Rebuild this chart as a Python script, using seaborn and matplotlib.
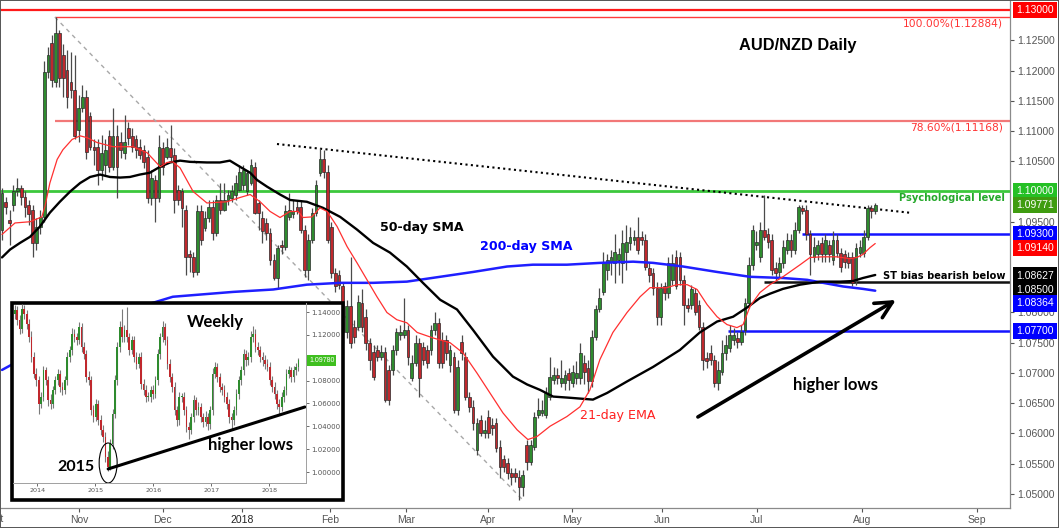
import numpy as np
import pandas as pd
import matplotlib
matplotlib.use("Agg")
import matplotlib.pyplot as plt
from matplotlib.patches import Rectangle, Ellipse
import seaborn as sns

# ---------------- main daily candles (AUD/NZD, Oct 2017 - Aug 2018) ----------------
opens = [1.0937, 1.0983, 1.0953, 1.0978, 1.1000, 1.1006, 1.0991, 1.0978, 1.0970, 1.0915,
         1.0942, 1.0958, 1.1198, 1.1246, 1.1181, 1.1262, 1.1226, 1.1201, 1.1181, 1.1168,
         1.1102, 1.1138, 1.1157, 1.1124, 1.1074, 1.1074, 1.1036, 1.1044, 1.1091, 1.1041,
         1.1091, 1.1082, 1.1064, 1.1105, 1.1091, 1.1086, 1.1074, 1.1069, 1.1057, 1.0990,
         1.1019, 1.0990, 1.1072, 1.1057, 1.1072, 1.1061, 1.1003, 1.1000, 1.0970, 1.0896,
         1.0891, 1.0867, 1.0967, 1.0940, 1.0957, 1.0975, 1.0932, 1.0986, 1.0970, 1.0986,
         1.0990, 1.0995, 1.1003, 1.1011, 1.1000, 1.1014, 1.1041, 1.0981, 1.0957, 1.0948,
         1.0932, 1.0887, 1.0857, 1.0912, 1.0909, 1.0958, 1.0962, 1.0975, 1.0975, 1.0937,
         1.0871, 1.0920, 1.0965, 1.1031, 1.1053, 1.1033, 1.0942, 1.0866, 1.0862, 1.0843,
         1.0767, 1.0810, 1.0776, 1.0776, 1.0816, 1.0793, 1.0750, 1.0735, 1.0738, 1.0727,
         1.0735, 1.0705, 1.0705, 1.0738, 1.0763, 1.0763, 1.0771, 1.0692, 1.0717, 1.0750,
         1.0743, 1.0738, 1.0738, 1.0771, 1.0783, 1.0755, 1.0755, 1.0714, 1.0727, 1.0639,
         1.0752, 1.0727, 1.0661, 1.0644, 1.0573, 1.0623, 1.0601, 1.0628, 1.0614, 1.0618,
         1.0578, 1.0557, 1.0552, 1.0535, 1.0535, 1.0528, 1.0512, 1.0581, 1.0553, 1.0578,
         1.0631, 1.0634, 1.0631, 1.0661, 1.0689, 1.0697, 1.0684, 1.0684, 1.0700, 1.0684,
         1.0692, 1.0692, 1.0717, 1.0709, 1.0686, 1.0760, 1.0805, 1.0834, 1.0871, 1.0884,
         1.0882, 1.0887, 1.0882, 1.0900, 1.0915, 1.0920, 1.0924, 1.0925, 1.0920, 1.0874,
         1.0866, 1.0841, 1.0793, 1.0843, 1.0833, 1.0854, 1.0892, 1.0891, 1.0854, 1.0813,
         1.0813, 1.0833, 1.0813, 1.0776, 1.0725, 1.0733, 1.0722, 1.0684, 1.0702, 1.0733,
         1.0742, 1.0755, 1.0758, 1.0752, 1.0771, 1.0816, 1.0879, 1.0912, 1.0892, 1.0937,
         1.0929, 1.0920, 1.0874, 1.0867, 1.0882, 1.0904, 1.0920, 1.0904, 1.0937, 1.0973,
         1.0970, 1.0929, 1.0892, 1.0896, 1.0915, 1.0896, 1.0912, 1.0887, 1.0920, 1.0899,
         1.0896, 1.0892, 1.0892, 1.0854, 1.0899, 1.0899, 1.0925, 1.0973, 1.0967]
highs = [1.1006, 1.0991, 1.0970, 1.1011, 1.1023, 1.1011, 1.1000, 1.0986, 1.0978, 1.0957,
         1.0970, 1.1215, 1.1239, 1.1259, 1.1289, 1.1267, 1.1243, 1.1234, 1.1231, 1.1226,
         1.1160, 1.1176, 1.1168, 1.1132, 1.1086, 1.1086, 1.1094, 1.1086, 1.1102, 1.1138,
         1.1110, 1.1099, 1.1127, 1.1115, 1.1105, 1.1094, 1.1086, 1.1077, 1.1069, 1.1036,
         1.1028, 1.1094, 1.1082, 1.1089, 1.1110, 1.1072, 1.1011, 1.1006, 1.0978, 1.0904,
         1.0900, 1.0978, 1.0978, 1.0967, 1.0986, 1.0986, 1.0995, 1.1014, 1.1014, 1.1003,
         1.1011, 1.1028, 1.1044, 1.1044, 1.1036, 1.1053, 1.1049, 1.0986, 1.0967, 1.0957,
         1.0940, 1.0896, 1.0912, 1.0920, 1.0978, 1.0998, 1.0986, 1.0986, 1.0986, 1.0945,
         1.0929, 1.0973, 1.1019, 1.1072, 1.1069, 1.1044, 1.0950, 1.0874, 1.0871, 1.0851,
         1.0821, 1.0891, 1.0788, 1.0829, 1.0838, 1.0805, 1.0758, 1.0747, 1.0747, 1.0747,
         1.0743, 1.0714, 1.0747, 1.0775, 1.0780, 1.0824, 1.0780, 1.0730, 1.0763, 1.0758,
         1.0752, 1.0747, 1.0780, 1.0800, 1.0791, 1.0767, 1.0763, 1.0747, 1.0735, 1.0722,
         1.0763, 1.0735, 1.0669, 1.0656, 1.0626, 1.0631, 1.0623, 1.0639, 1.0626, 1.0626,
         1.0590, 1.0565, 1.0560, 1.0543, 1.0543, 1.0540, 1.0540, 1.0590, 1.0590, 1.0636,
         1.0659, 1.0656, 1.0676, 1.0727, 1.0710, 1.0709, 1.0722, 1.0705, 1.0709, 1.0714,
         1.0719, 1.0750, 1.0730, 1.0722, 1.0771, 1.0813, 1.0841, 1.0900, 1.0896, 1.0904,
         1.0929, 1.0907, 1.0937, 1.0945, 1.0942, 1.0937, 1.0958, 1.0934, 1.0929, 1.0884,
         1.0874, 1.0851, 1.0849, 1.0851, 1.0891, 1.0896, 1.0904, 1.0900, 1.0862, 1.0824,
         1.0846, 1.0841, 1.0821, 1.0785, 1.0735, 1.0747, 1.0730, 1.0719, 1.0755, 1.0763,
         1.0780, 1.0775, 1.0768, 1.0780, 1.0824, 1.0891, 1.0945, 1.0934, 1.0950, 1.0995,
         1.0940, 1.0929, 1.0884, 1.0891, 1.0920, 1.0932, 1.0929, 1.0950, 1.0978, 1.0978,
         1.0978, 1.0937, 1.0924, 1.0920, 1.0924, 1.0929, 1.0920, 1.0934, 1.0929, 1.0907,
         1.0904, 1.0900, 1.0900, 1.0915, 1.0920, 1.0937, 1.0978, 1.0978, 1.0981]
lows = [1.0920, 1.0962, 1.0912, 1.0967, 1.0993, 1.0978, 1.0958, 1.0945, 1.0892, 1.0904,
        1.0929, 1.0950, 1.1188, 1.1172, 1.1172, 1.1172, 1.1157, 1.1138, 1.1155, 1.1086,
        1.1082, 1.1132, 1.1053, 1.1069, 1.1044, 1.1011, 1.1019, 1.1028, 1.1033, 1.1036,
        1.0990, 1.1056, 1.1053, 1.1077, 1.1066, 1.1056, 1.1053, 1.1039, 1.0981, 1.0978,
        1.0950, 1.0983, 1.1028, 1.1053, 1.1049, 1.0965, 1.0978, 1.0942, 1.0862, 1.0867,
        1.0859, 1.0862, 1.0912, 1.0934, 1.0950, 1.0920, 1.0927, 1.0962, 1.0967, 1.0978,
        1.0983, 1.0986, 1.1000, 1.1003, 1.0995, 1.1011, 1.0962, 1.0937, 1.0915, 1.0920,
        1.0879, 1.0854, 1.0841, 1.0896, 1.0904, 1.0953, 1.0957, 1.0962, 1.0932, 1.0859,
        1.0854, 1.0915, 1.0960, 1.1026, 1.1023, 1.0915, 1.0857, 1.0834, 1.0838, 1.0750,
        1.0758, 1.0742, 1.0750, 1.0771, 1.0767, 1.0738, 1.0705, 1.0689, 1.0719, 1.0722,
        1.0652, 1.0647, 1.0697, 1.0730, 1.0755, 1.0758, 1.0714, 1.0686, 1.0712, 1.0661,
        1.0714, 1.0709, 1.0730, 1.0763, 1.0709, 1.0709, 1.0722, 1.0702, 1.0634, 1.0631,
        1.0722, 1.0656, 1.0636, 1.0606, 1.0565, 1.0595, 1.0593, 1.0593, 1.0598, 1.0570,
        1.0527, 1.0537, 1.0524, 1.0515, 1.0519, 1.0490, 1.0497, 1.0540, 1.0548, 1.0573,
        1.0626, 1.0629, 1.0626, 1.0656, 1.0681, 1.0681, 1.0676, 1.0672, 1.0672, 1.0676,
        1.0681, 1.0681, 1.0681, 1.0667, 1.0676, 1.0755, 1.0800, 1.0829, 1.0854, 1.0862,
        1.0849, 1.0862, 1.0849, 1.0871, 1.0904, 1.0912, 1.0896, 1.0912, 1.0871, 1.0851,
        1.0829, 1.0780, 1.0780, 1.0821, 1.0824, 1.0846, 1.0838, 1.0846, 1.0780, 1.0801,
        1.0805, 1.0796, 1.0771, 1.0705, 1.0709, 1.0714, 1.0676, 1.0672, 1.0697, 1.0722,
        1.0735, 1.0747, 1.0742, 1.0747, 1.0763, 1.0808, 1.0871, 1.0904, 1.0884, 1.0920,
        1.0907, 1.0862, 1.0854, 1.0857, 1.0874, 1.0896, 1.0891, 1.0896, 1.0932, 1.0962,
        1.0920, 1.0862, 1.0884, 1.0887, 1.0884, 1.0884, 1.0884, 1.0879, 1.0891, 1.0867,
        1.0874, 1.0874, 1.0843, 1.0846, 1.0891, 1.0891, 1.0920, 1.0957, 1.0962]
closes = [1.0998, 1.0975, 1.0948, 1.1000, 1.1006, 1.0991, 1.0975, 1.0962, 1.0915, 1.0942,
          1.0958, 1.1198, 1.1226, 1.1185, 1.1262, 1.1188, 1.1188, 1.1157, 1.1168, 1.1091,
          1.1138, 1.1157, 1.1066, 1.1074, 1.1069, 1.1036, 1.1064, 1.1069, 1.1041, 1.1091,
          1.1041, 1.1069, 1.1082, 1.1089, 1.1074, 1.1069, 1.1061, 1.1049, 1.0990, 1.1023,
          1.0990, 1.1074, 1.1041, 1.1074, 1.1057, 1.0986, 1.0986, 1.0973, 1.0892, 1.0891,
          1.0867, 1.0967, 1.0920, 1.0957, 1.0975, 1.0932, 1.0986, 1.0970, 1.0986, 1.0995,
          1.1001, 1.1014, 1.1033, 1.1036, 1.1031, 1.1044, 1.0965, 1.0965, 1.0934, 1.0932,
          1.0887, 1.0857, 1.0907, 1.0909, 1.0967, 1.0970, 1.0967, 1.0967, 1.0937, 1.0871,
          1.0920, 1.0965, 1.1011, 1.1053, 1.1033, 1.0920, 1.0866, 1.0843, 1.0846, 1.0767,
          1.0810, 1.0750, 1.0760, 1.0818, 1.0776, 1.0750, 1.0722, 1.0694, 1.0727, 1.0735,
          1.0656, 1.0656, 1.0738, 1.0767, 1.0768, 1.0771, 1.0727, 1.0717, 1.0750, 1.0692,
          1.0722, 1.0717, 1.0771, 1.0783, 1.0717, 1.0717, 1.0733, 1.0738, 1.0639, 1.0710,
          1.0733, 1.0661, 1.0644, 1.0618, 1.0618, 1.0601, 1.0606, 1.0601, 1.0609, 1.0576,
          1.0545, 1.0545, 1.0535, 1.0528, 1.0528, 1.0512, 1.0532, 1.0553, 1.0581, 1.0628,
          1.0639, 1.0639, 1.0667, 1.0694, 1.0697, 1.0692, 1.0692, 1.0697, 1.0689, 1.0702,
          1.0700, 1.0733, 1.0702, 1.0686, 1.0760, 1.0805, 1.0824, 1.0882, 1.0887, 1.0891,
          1.0900, 1.0896, 1.0915, 1.0917, 1.0925, 1.0924, 1.0904, 1.0920, 1.0876, 1.0862,
          1.0841, 1.0793, 1.0841, 1.0833, 1.0882, 1.0882, 1.0843, 1.0854, 1.0813, 1.0808,
          1.0838, 1.0801, 1.0776, 1.0722, 1.0719, 1.0722, 1.0684, 1.0705, 1.0733, 1.0747,
          1.0763, 1.0763, 1.0752, 1.0768, 1.0816, 1.0879, 1.0937, 1.0917, 1.0937, 1.0925,
          1.0917, 1.0871, 1.0866, 1.0882, 1.0909, 1.0920, 1.0904, 1.0937, 1.0975, 1.0967,
          1.0929, 1.0896, 1.0909, 1.0912, 1.0896, 1.0920, 1.0896, 1.0920, 1.0899, 1.0876,
          1.0884, 1.0882, 1.0849, 1.0907, 1.0909, 1.0925, 1.0973, 1.0967, 1.0978]

# month labels (positions in candle-index units)
month_labels = ["Nov", "Dec", "2018", "Feb", "Mar", "Apr", "May", "Jun", "Jul", "Aug", "Sep"]
month_pos = [20.1, 42.0, 62.7, 85.6, 105.5, 126.9, 148.8, 172.3, 197.1, 224.5, 254.6]

# right-axis tick values (those hidden behind value boxes are left out)
price_ticks = [1.050, 1.055, 1.060, 1.065, 1.070, 1.075, 1.080, 1.095, 1.105, 1.110, 1.115,
               1.120, 1.125]

# moving averages (candle index, price)
ema21_idx = [0, 3.4, 7.3, 10.4, 11.2, 12.5, 14.4, 15.9, 18.3, 20.4, 22.2, 24.8, 29.0, 34.2, 37.9,
             41.3, 43.1, 44.6, 46.5, 49.9, 53.5, 58.7, 62.1, 64.8, 67.4, 70.0, 72.6, 75.2, 77.3,
             78.6, 80.9, 83.0, 84.9, 87.5, 90.1, 92.7, 95.3, 97.9, 100.5, 103.1, 105.7, 108.4,
             112.5, 117.0, 120.4, 124.0, 127.4, 130.8, 134.5, 137.3, 139.7, 143.1, 147.5, 150.9,
             153.5, 156.1, 159.5, 163.2, 166.6, 169.2, 173.6, 176.2, 178.9, 181.5, 184.1, 186.7,
             189.3, 191.9, 193.5, 195.3, 197.9, 200.5, 203.9, 208.4, 211.0, 214.4, 218.0, 221.4,
             223.2, 224.8, 226.6, 228.0]
ema21_val = [1.0929, 1.0948, 1.0950, 1.0958, 1.0975, 1.1014, 1.1053, 1.1069, 1.1086, 1.1092,
             1.1089, 1.1081, 1.1074, 1.1074, 1.1064, 1.1041, 1.1048, 1.1049, 1.1039, 1.1000,
             1.0981, 1.0983, 1.0990, 1.0995, 1.0983, 1.0967, 1.0957, 1.0967, 1.0967, 1.0957,
             1.0958, 1.0973, 1.0967, 1.0942, 1.0909, 1.0882, 1.0854, 1.0826, 1.0800, 1.0788,
             1.0783, 1.0767, 1.0758, 1.0750, 1.0733, 1.0700, 1.0667, 1.0634, 1.0606, 1.0590,
             1.0595, 1.0612, 1.0628, 1.0644, 1.0672, 1.0722, 1.0767, 1.0800, 1.0826, 1.0841,
             1.0841, 1.0846, 1.0846, 1.0838, 1.0813, 1.0793, 1.0780, 1.0775, 1.0780, 1.0810,
             1.0833, 1.0846, 1.0859, 1.0879, 1.0891, 1.0892, 1.0892, 1.0889, 1.0891, 1.0896,
             1.0907, 1.0914]
sma50_idx = [0, 2.1, 4.7, 7.3, 9.9, 12.5, 15.1, 17.8, 20.4, 23.0, 25.6, 28.2, 30.8, 33.4, 36.0,
             38.6, 41.3, 43.9, 46.5, 49.1, 53.5, 56.9, 59.5, 62.1, 64.8, 66.6, 69.2, 72.6, 75.2,
             79.6, 83.8, 88.3, 92.7, 96.9, 101.3, 105.7, 109.9, 114.4, 118.8, 123.0, 128.2,
             133.4, 137.1, 140.5, 143.9, 148.3, 154.3, 158.0, 163.2, 170.0, 177.0, 182.2, 186.7,
             190.9, 194.5, 197.9, 200.5, 203.9, 208.4, 213.6, 218.8, 222.2, 224.8, 228.0]
sma50_val = [1.0891, 1.0904, 1.0915, 1.0925, 1.0942, 1.0965, 1.0983, 1.1000, 1.1014, 1.1024,
             1.1028, 1.1024, 1.1023, 1.1024, 1.1028, 1.1031, 1.1041, 1.1048, 1.1051, 1.1049,
             1.1048, 1.1048, 1.1051, 1.1041, 1.1031, 1.1019, 1.1008, 1.0995, 1.0986, 1.0983,
             1.0973, 1.0958, 1.0937, 1.0915, 1.0899, 1.0876, 1.0849, 1.0821, 1.0805, 1.0771,
             1.0727, 1.0694, 1.0681, 1.0672, 1.0661, 1.0659, 1.0656, 1.0667, 1.0686, 1.0710,
             1.0738, 1.0767, 1.0785, 1.0793, 1.0808, 1.0824, 1.0831, 1.0839, 1.0846, 1.0851,
             1.0851, 1.0852, 1.0857, 1.0862]
sma200_idx = [0, 2.6, 15.1, 28.2, 39.4, 44.6, 60.3, 70.8, 79.6, 88.3, 96.9, 105.7, 114.4, 123.0,
              131.9, 138.6, 147.5, 156.1, 164.8, 170.0, 177.8, 186.7, 195.3, 203.9, 210.2, 214.4,
              219.6, 224.8, 228.0]
sma200_val = [1.0705, 1.0714, 1.0763, 1.0796, 1.0816, 1.0826, 1.0834, 1.0838, 1.0846, 1.0849,
              1.0849, 1.0851, 1.0859, 1.0867, 1.0876, 1.0879, 1.0879, 1.0882, 1.0884, 1.0882,
              1.0876, 1.0867, 1.0859, 1.0857, 1.0854, 1.0849, 1.0843, 1.0839, 1.0836]

# horizontal levels
level_vals = [1.13000, 1.12884, 1.11168, 1.10000, 1.09300, 1.08500, 1.07700]
level_start = [None, 13.8, 13.8, None, 208.9, 199.0, 189.6]
level_colors = ["#ff1a1a", "#ff3b3b", "#f27878", "#3cc83c", "#1414ff", "#111111", "#1414ff"]
level_widths = [1.6, 1.0, 1.6, 2.0, 1.8, 1.8, 1.8]

# right-edge value boxes
box_vals = [1.13000, 1.10000, 1.09771, 1.09300, 1.09140, 1.08627, 1.08500, 1.08364, 1.07700]
box_colors = ["#ff0000", "#25c025", "#3f9c10", "#0000ff", "#ff0000", "#000000", "#000000",
              "#0000ff", "#0000ff"]
box_shift_px = [0, 0, 0, 0, 4.5, 1, 8, 13, 0]

# trend lines
resist_idx, resist_val = [71.8, 237.6], [1.10785, 1.09645]
fibline_idx, fibline_val = [13.8, 136.0], [1.12884, 1.0490]
arrow_idx, arrow_val = [181.7, 233.4], [1.06273, 1.08207]

# ---------------- inset weekly data ----------------
wk_close = [1.1415, 1.1327, 1.1254, 1.1429, 1.1385, 1.1298, 1.1181, 1.1006, 1.0860, 1.0802,
            1.0598, 1.0656, 1.0890, 1.0802, 1.0627, 1.0598, 1.0715, 1.0802, 1.0860, 1.0744,
            1.0715, 1.0802, 1.1006, 1.1065, 1.1210, 1.1181, 1.1152, 1.1269, 1.1094, 1.1035,
            1.0831, 1.0802, 1.0540, 1.0481, 1.0598, 1.0452, 1.0365, 1.0306, 1.0131, 1.0044,
            1.0248, 1.0510, 1.0802, 1.1094, 1.1269, 1.1181, 1.1240, 1.1181, 1.1065, 1.1152,
            1.1006, 1.0948, 1.1006, 1.0773, 1.0715, 1.0656, 1.0656, 1.0715, 1.0685, 1.0802,
            1.1035, 1.1181, 1.1269, 1.1152, 1.0948, 1.0831, 1.0744, 1.0540, 1.0452, 1.0656,
            1.0656, 1.0540, 1.0394, 1.0365, 1.0481, 1.0627, 1.0540, 1.0569, 1.0481, 1.0437,
            1.0481, 1.0423, 1.0540, 1.0860, 1.0919, 1.0831, 1.0744, 1.0715, 1.0656, 1.0598,
            1.0481, 1.0452, 1.0540, 1.0685, 1.0802, 1.0890, 1.1035, 1.0977, 1.1006, 1.1181,
            1.1210, 1.1094, 1.1065, 1.1006, 1.0977, 1.0948, 1.0919, 1.0802, 1.0744, 1.0685,
            1.0598, 1.0569, 1.0656, 1.0715, 1.0860, 1.0890, 1.0831, 1.0890, 1.0919, 1.0977]
wk_open = [1.1380, 1.1415, 1.1327, 1.1254, 1.1429, 1.1385, 1.1298, 1.1181, 1.1006, 1.0860,
           1.0802, 1.0598, 1.0656, 1.0890, 1.0802, 1.0627, 1.0598, 1.0715, 1.0802, 1.0860,
           1.0744, 1.0715, 1.0802, 1.1006, 1.1065, 1.1210, 1.1181, 1.1152, 1.1269, 1.1094,
           1.1035, 1.0831, 1.0802, 1.0540, 1.0481, 1.0598, 1.0452, 1.0365, 1.0306, 1.0131,
           1.0044, 1.0248, 1.0510, 1.0802, 1.1094, 1.1269, 1.1181, 1.1240, 1.1181, 1.1065,
           1.1152, 1.1006, 1.0948, 1.1006, 1.0773, 1.0715, 1.0656, 1.0656, 1.0715, 1.0685,
           1.0802, 1.1035, 1.1181, 1.1269, 1.1152, 1.0948, 1.0831, 1.0744, 1.0540, 1.0452,
           1.0656, 1.0656, 1.0540, 1.0394, 1.0365, 1.0481, 1.0627, 1.0540, 1.0569, 1.0481,
           1.0437, 1.0481, 1.0423, 1.0540, 1.0860, 1.0919, 1.0831, 1.0744, 1.0715, 1.0656,
           1.0598, 1.0481, 1.0452, 1.0540, 1.0685, 1.0802, 1.0890, 1.1035, 1.0977, 1.1006,
           1.1181, 1.1210, 1.1094, 1.1065, 1.1006, 1.0977, 1.0948, 1.0919, 1.0802, 1.0744,
           1.0685, 1.0598, 1.0569, 1.0656, 1.0715, 1.0860, 1.0890, 1.0831, 1.0890, 1.0919]
wk_high = [1.1460, 1.1450, 1.1370, 1.1470, 1.1460, 1.1420, 1.1340, 1.1230, 1.1050, 1.0910,
           1.0840, 1.0700, 1.0930, 1.0920, 1.0840, 1.0680, 1.0750, 1.0840, 1.0900, 1.0890,
           1.0790, 1.0840, 1.1050, 1.1100, 1.1260, 1.1250, 1.1220, 1.1310, 1.1300, 1.1140,
           1.1070, 1.0880, 1.0840, 1.0590, 1.0640, 1.0630, 1.0500, 1.0410, 1.0350, 1.0180,
           1.0290, 1.0550, 1.0850, 1.1140, 1.1320, 1.1430, 1.1290, 1.1440, 1.1220, 1.1190,
           1.1190, 1.1050, 1.1040, 1.1050, 1.0810, 1.0760, 1.0700, 1.0750, 1.0760, 1.0840,
           1.1080, 1.1220, 1.1320, 1.1300, 1.1190, 1.0990, 1.0870, 1.0790, 1.0580, 1.0700,
           1.0690, 1.0700, 1.0580, 1.0440, 1.0520, 1.0670, 1.0660, 1.0610, 1.0600, 1.0520,
           1.0530, 1.0520, 1.0580, 1.0910, 1.0960, 1.0950, 1.0870, 1.0780, 1.0760, 1.0700,
           1.0640, 1.0520, 1.0580, 1.0730, 1.0840, 1.0930, 1.1080, 1.1070, 1.1050, 1.1230,
           1.1280, 1.1250, 1.1140, 1.1100, 1.1050, 1.1020, 1.0990, 1.0960, 1.0840, 1.0790,
           1.0720, 1.0640, 1.0700, 1.0750, 1.0900, 1.0930, 1.0920, 1.0930, 1.0950, 1.1000]
wk_low = [1.1340, 1.1290, 1.1210, 1.1220, 1.1340, 1.1250, 1.1140, 1.0960, 1.0820, 1.0750,
          1.0510, 1.0560, 1.0620, 1.0760, 1.0580, 1.0550, 1.0560, 1.0680, 1.0760, 1.0700,
          1.0670, 1.0680, 1.0760, 1.0960, 1.1020, 1.1140, 1.1110, 1.1120, 1.1050, 1.0990,
          1.0790, 1.0760, 1.0500, 1.0440, 1.0450, 1.0410, 1.0320, 1.0260, 1.0090, 1.0010,
          1.0020, 1.0200, 1.0470, 1.0760, 1.1050, 1.1140, 1.1140, 1.1140, 1.1020, 1.1030,
          1.0960, 1.0900, 1.0910, 1.0730, 1.0670, 1.0610, 1.0620, 1.0610, 1.0640, 1.0650,
          1.0760, 1.0990, 1.1140, 1.1110, 1.0900, 1.0790, 1.0700, 1.0500, 1.0400, 1.0410,
          1.0610, 1.0500, 1.0350, 1.0290, 1.0330, 1.0440, 1.0500, 1.0500, 1.0440, 1.0390,
          1.0400, 1.0370, 1.0380, 1.0500, 1.0820, 1.0790, 1.0700, 1.0670, 1.0610, 1.0550,
          1.0430, 1.0380, 1.0410, 1.0500, 1.0640, 1.0760, 1.0850, 1.0930, 1.0940, 1.0960,
          1.1140, 1.1050, 1.1020, 1.0960, 1.0930, 1.0900, 1.0880, 1.0760, 1.0700, 1.0640,
          1.0550, 1.0510, 1.0530, 1.0610, 1.0670, 1.0820, 1.0790, 1.0790, 1.0850, 1.0880]
wk_dates = pd.date_range("2013-08-12", periods=len(wk_close), freq="15D")
wk_years = [2014, 2015, 2016, 2017, 2018]
wk_ticks = [1.00, 1.02, 1.04, 1.06, 1.08, 1.12, 1.14]
wk_last = 1.09780
wk_trend_year, wk_trend_val = [2015.22, 2018.61], [1.0027, 1.0569]

# ---------------- style ----------------
sns.set_theme(style="white")
plt.rcParams["font.family"] = ["DejaVu Sans"]
GREEN, RED = "#2e8b2e", "#c0282d"
TICK_GREY = "#555555"

W, H = 1059, 528
fig = plt.figure(figsize=(W / 100, H / 100), dpi=100)
fig.patch.set_facecolor("white")


def fx(px):
    return px / W


def fy(py):
    return 1 - py / H


ax = fig.add_axes([0, fy(508), fx(1010), (508 - 1) / H])
ax.set_facecolor("white")
XL, XR = -0.522, 263.19
ax.set_xlim(XL, XR)
ax.set_ylim(1.04768, 1.13149)

# levels
for v, s, col, lw in zip(level_vals, level_start, level_colors, level_widths):
    ax.hlines(v, XL if s is None else s, XR, colors=col, lw=lw, zorder=1.2)

# trend lines
ax.plot(fibline_idx, fibline_val, color="#a8a8a8", lw=1.0, ls=(0, (3, 3)), zorder=1.4)
ax.plot(resist_idx, resist_val, color="black", lw=1.5, ls=(0, (1, 1.6)), zorder=1.4)

# candles
idx = np.arange(len(closes))
o, c = np.array(opens), np.array(closes)
h, l = np.array(highs), np.array(lows)
cols = np.where(c >= o, GREEN, RED)
body = c - o
body = np.where(np.abs(body) < 0.00006, 0.00006, body)
ax.vlines(idx, l, h, color="#4a4a4a", lw=0.9, zorder=2)
ax.bar(idx, body, bottom=o, width=0.72, color=cols, edgecolor="#2a2a2a", linewidth=0.5,
       zorder=2.2)

# moving averages (seaborn)
sns.lineplot(x=sma200_idx, y=sma200_val, ax=ax, color="#1f1fff", linewidth=1.8, zorder=3)
sns.lineplot(x=sma50_idx, y=sma50_val, ax=ax, color="black", linewidth=1.7, zorder=3.1)
sns.lineplot(x=ema21_idx, y=ema21_val, ax=ax, color="#ff3030", linewidth=0.9, zorder=3.2)
ax.set_xlabel("")
ax.set_ylabel("")

# higher-lows arrow
ax.annotate("", xy=(arrow_idx[1], arrow_val[1]), xytext=(arrow_idx[0], arrow_val[0]),
            arrowprops=dict(arrowstyle="->,head_length=1.0,head_width=0.5", color="black",
                            lw=2.6, shrinkA=0, shrinkB=0), zorder=4)

# texts
ax.text(207.8, 1.12421, "AUD/NZD Daily", ha="center", va="center", fontsize=11.8,
        fontweight="bold", family="Liberation Sans", color="black", zorder=5)
ax.text(261.4, 1.12769, "100.00%(1.12884)", ha="right", va="center", fontsize=7.7,
        color="#ff3333", zorder=5)
ax.text(261.4, 1.11050, "78.60%(1.11168)", ha="right", va="center", fontsize=7.7,
        color="#ff3333", zorder=5)
ax.text(261.9, 1.09893, "Psychological level", ha="right", va="center", fontsize=7.1,
        fontweight="bold", color="#24a82a", zorder=5)
ax.text(261.9, 1.08603, "ST bias bearish below", ha="right", va="center", fontsize=7.1,
        fontweight="bold", color="black", zorder=5)
ax.text(98.7, 1.09397, "50-day SMA", ha="left", va="center", fontsize=9.1,
        fontweight="bold", color="black", zorder=5)
ax.text(124.8, 1.09099, "200-day SMA", ha="left", va="center", fontsize=9.1,
        fontweight="bold", color="#0000ff", zorder=5)
ax.text(150.9, 1.06289, "21-day EMA", ha="left", va="center", fontsize=9.1,
        color="#ff2020", zorder=5)
ax.text(206.5, 1.06802, "higher lows", ha="left", va="center", fontsize=12,
        fontweight="bold", family="Lato", color="black", zorder=5)

# axes styling
ax.yaxis.tick_right()
ax.set_yticks(price_ticks)
ax.yaxis.set_major_formatter(matplotlib.ticker.FormatStrFormatter("%.5f"))
ax.set_xticks(month_pos)
ax.set_xticklabels(month_labels)
ax.tick_params(axis="y", right=True, left=False, length=3, width=0.8, colors=TICK_GREY,
               labelsize=7.5, pad=2)
ax.tick_params(axis="x", bottom=True, length=3, width=0.8, colors=TICK_GREY,
               labelsize=7.5, pad=2)
for lab in ax.get_xticklabels() + ax.get_yticklabels():
    lab.set_family("Liberation Sans")
for lab in ax.get_xticklabels():
    if lab.get_text() == "2018":
        lab.set_color("#222222")
for side in ["top", "left"]:
    ax.spines[side].set_visible(False)
for side in ["right", "bottom"]:
    ax.spines[side].set_color("#8a8a8a")
    ax.spines[side].set_linewidth(0.9)
ax.grid(False)

# value boxes on right axis
for v, col, sh in zip(box_vals, box_colors, box_shift_px):
    ax.annotate(f"{v:.5f}", xy=(1, v), xycoords=ax.get_yaxis_transform(),
                xytext=(6, -sh), textcoords="offset pixels", ha="left", va="center",
                fontsize=7.5, family="Liberation Sans", color="white",
                bbox=dict(boxstyle="square,pad=0.3", fc=col, ec="none"),
                annotation_clip=False, zorder=6)

fig.text(fx(-4), fy(519), "Oct", ha="center", va="center", fontsize=7.5,
         family="Liberation Sans", color=TICK_GREY)

# ---------------- inset ----------------
frame = Rectangle((fx(12), fy(500)), fx(331), (500 - 303) / H, transform=fig.transFigure,
                  fc="white", ec="black", lw=2.6, zorder=5)
fig.add_artist(frame)
axi = fig.add_axes([fx(13), fy(483), fx(293), 180 / H], zorder=6)
axi.set_facecolor("none")
axi.set_xlim(2013.58, 2018.63)
axi.set_ylim(0.9904, 1.1479)

wx = np.array(wk_dates.year + (wk_dates.dayofyear - 1) / 365.0, dtype=float)
wo, wc = np.array(wk_open), np.array(wk_close)
wcols = np.where(wc >= wo, GREEN, RED)
wbody = wc - wo
wbody = np.where(np.abs(wbody) < 0.0008, 0.0008, wbody)
axi.vlines(wx, wk_low, wk_high, color="#7a7a7a", lw=0.8, zorder=2)
axi.bar(wx, wbody, bottom=wo, width=0.03, color=wcols, edgecolor="none", zorder=2.2)

sns.lineplot(x=wk_trend_year, y=wk_trend_val, ax=axi, color="black", linewidth=2.2, zorder=3)
axi.add_patch(Ellipse((2015.22, 1.0079), 0.31, 0.035, fill=False, ec="black", lw=0.8,
                      zorder=3))
axi.set_xlabel("")
axi.set_ylabel("")
axi.text(2017.06, 1.1313, "Weekly", ha="center", va="center", fontsize=12,
         fontweight="bold", family="Lato", color="black", zorder=4)
axi.text(2017.67, 1.0236, "higher lows", ha="center", va="center", fontsize=12,
         fontweight="bold", family="Lato", color="black", zorder=4)
axi.text(2014.67, 1.0044, "2015", ha="center", va="center", fontsize=11.5,
         fontweight="bold", family="Lato", color="black", zorder=4)

axi.yaxis.tick_right()
axi.set_yticks(wk_ticks)
axi.yaxis.set_major_formatter(matplotlib.ticker.FormatStrFormatter("%.5f"))
axi.set_xticks(wk_years)
axi.set_xticklabels([str(y) for y in wk_years])
axi.tick_params(axis="y", right=True, left=False, length=2, width=0.6, colors="#555555",
                labelsize=5, pad=1.5)
axi.tick_params(axis="x", bottom=True, length=2, width=0.6, colors="#555555",
                labelsize=4.6, pad=1.5)
for side in ["top", "left"]:
    axi.spines[side].set_visible(False)
for side in ["right", "bottom"]:
    axi.spines[side].set_color("#a0a0a0")
    axi.spines[side].set_linewidth(0.7)
axi.annotate(f"{wk_last:.5f}", xy=(1, wk_last), xycoords=axi.get_yaxis_transform(),
             xytext=(3, 0), textcoords="offset pixels", ha="left", va="center",
             fontsize=5, family="Liberation Sans", color="white",
             bbox=dict(boxstyle="square,pad=0.3", fc="#3fbf1f", ec="none"),
             annotation_clip=False, zorder=6)

# outer border of the picture
fig.add_artist(Rectangle((0, 0), 1, 1, transform=fig.transFigure, fill=False,
                         ec="#555555", lw=1.4, zorder=10))

fig.savefig("out.png", dpi=100)
